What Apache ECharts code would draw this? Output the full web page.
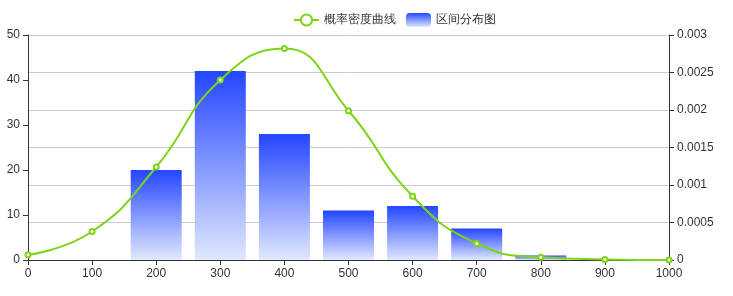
<!DOCTYPE html>
<html><head><meta charset="utf-8">
<script src="https://cdn.jsdelivr.net/npm/echarts@6/dist/echarts.min.js"></script>
<style>html,body{margin:0;padding:0;background:#fff}#c{width:733px;height:296px}</style>
</head><body><div id="c"></div>
<script>
var barX = [200, 300, 400, 500, 600, 700, 800];
var barValues = [20, 42, 28, 11, 12, 7, 1];
var lineX = [0, 100, 200, 300, 400, 500, 600, 700, 800, 900, 1000];
var lineValues = [0.00007, 0.00038, 0.00124, 0.0024, 0.00282, 0.00199, 0.00085, 0.00022, 0.000036, 0.000008, 0];
var names = ['概率密度曲线', '区间分布图'];

var chart = echarts.init(document.getElementById('c'));
var grad = new echarts.graphic.LinearGradient(0, 0, 0, 1, [
  {offset: 0, color: '#2446ff'},
  {offset: 1, color: '#e0e8fd'}
]);
chart.setOption({
  animation: false,
  textStyle: {fontFamily: 'Helvetica, Arial, sans-serif'},
  legend: {
    top: 8, left: 288,
    itemGap: 10,
    textStyle: {color: '#333', fontSize: 12},
    data: [names[0], names[1]]
  },
  grid: {left: 28, right: 64, top: 35, bottom: 36},
  xAxis: {
    type: 'value', min: 0, max: 1000, interval: 100,
    axisLine: {lineStyle: {color: '#333'}},
    axisLabel: {color: '#333', fontSize: 12, formatter: function (v) { return String(v); }},
    splitLine: {show: false}
  },
  yAxis: [{
    type: 'value', min: 0, max: 50, interval: 10,
    axisLine: {show: true, lineStyle: {color: '#333'}},
    axisTick: {show: true},
    axisLabel: {color: '#333', fontSize: 12},
    splitLine: {show: false}
  }, {
    type: 'value', min: 0, max: 0.003, interval: 0.0005,
    axisLine: {show: true, lineStyle: {color: '#333'}},
    axisTick: {show: true},
    axisLabel: {color: '#333', fontSize: 12, formatter: function (v) { return String(v); }},
    splitLine: {show: true, lineStyle: {color: '#ccc'}}
  }],
  series: [{
    name: names[1], type: 'bar', yAxisIndex: 0,
    barWidth: 51,
    itemStyle: {color: grad},
    data: barX.map(function (x, i) { return [x, barValues[i]]; }),
    z: 2
  }, {
    name: names[0], type: 'line', yAxisIndex: 1,
    smooth: true,
    symbol: 'emptyCircle', symbolSize: 5,
    itemStyle: {color: '#7fd319', borderWidth: 1.5},
    lineStyle: {color: '#7fd319', width: 2},
    data: lineX.map(function (x, i) { return [x, lineValues[i]]; }),
    z: 3
  }]
});
</script></body></html>
